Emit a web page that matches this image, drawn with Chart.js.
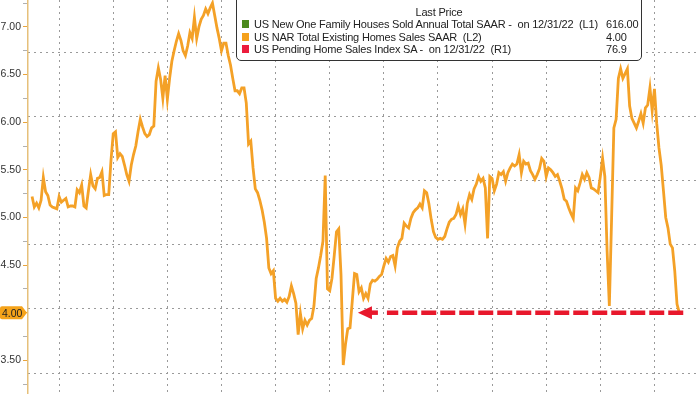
<!DOCTYPE html>
<html>
<head>
<meta charset="utf-8">
<script src="https://cdn.jsdelivr.net/npm/chart.js@4.4.0/dist/chart.umd.min.js"></script>
<style>
  body { margin: 0; background: #fff; }
  #wrap { position: relative; width: 700px; height: 394px; overflow: hidden; }
  #legend {
    position: absolute; left: 236px; top: -6px; width: 404px; height: 65px;
    border: 1px solid #333; border-radius: 5px; background: #fff;
    font: 11px "Liberation Sans", Arial, sans-serif; letter-spacing: -0.2px; color: #222;
  }
  #legend .title { position: absolute; left: 0; width: 100%; top: 11px; text-align: center; line-height: 12px; }
  #legend .row { position: absolute; left: 0; width: 100%; line-height: 12px; white-space: pre; }
  #legend .sq { position: absolute; left: 5px; top: 2px; width: 7px; height: 8px; }
  #legend .name { position: absolute; left: 17px; }
  #legend .val { position: absolute; left: 369px; }
</style>
</head>
<body>
<div id="wrap">
  <canvas id="myChart" width="700" height="394"></canvas>
  <div id="legend"></div>
</div>
<script>
// monthly, Jan 1999 .. Dec 2022 (millions, SAAR)
const startYear = 1999
const homeSales = [
  5.22, 5.11, 5.15, 5.10, 5.18, 5.42, 5.27, 5.23, 5.13, 5.11, 5.10, 5.09, // 1999
  5.22, 5.16, 5.18, 5.20, 5.11, 5.12, 5.12, 5.11, 5.29, 5.26, 5.34, 5.12, // 2000
  5.10, 5.28, 5.45, 5.33, 5.30, 5.41, 5.42, 5.48, 5.23, 5.24, 5.24, 5.60, // 2001
  5.88, 5.90, 5.63, 5.67, 5.64, 5.55, 5.45, 5.38, 5.55, 5.66, 5.75, 5.90, // 2002
  6.03, 5.95, 5.88, 5.85, 5.87, 5.94, 5.96, 6.43, 6.57, 6.45, 6.25, 6.49, // 2003
  6.24, 6.46, 6.64, 6.75, 6.85, 6.93, 6.86, 6.75, 6.70, 6.80, 6.94, 6.88, // 2004
  7.10, 6.88, 7.00, 7.08, 7.12, 7.19, 7.14, 7.20, 7.25, 7.12, 6.99, 6.88, // 2005
  6.75, 6.83, 6.83, 6.70, 6.60, 6.46, 6.33, 6.33, 6.30, 6.36, 6.36, 6.20, // 2006
  5.77, 5.80, 5.52, 5.30, 5.26, 5.18, 5.08, 4.95, 4.78, 4.47, 4.41, 4.44, // 2007
  4.15, 4.12, 4.15, 4.12, 4.14, 4.11, 4.17, 4.28, 4.20, 4.10, 3.77, 3.99, // 2008
  3.83, 3.92, 3.87, 3.92, 3.94, 4.07, 4.36, 4.47, 4.60, 4.75, 5.44, 4.25, // 2009
  4.23, 4.36, 4.60, 4.85, 4.88, 4.40, 3.45, 3.67, 3.83, 3.84, 4.12, 4.41, // 2010
  4.40, 4.22, 4.26, 4.15, 4.20, 4.15, 4.30, 4.34, 4.33, 4.35, 4.38, 4.40, // 2011
  4.49, 4.57, 4.53, 4.59, 4.60, 4.49, 4.68, 4.75, 4.78, 4.94, 4.91, 4.89, // 2012
  4.99, 5.05, 5.08, 5.10, 5.14, 5.10, 5.28, 5.26, 5.14, 4.98, 4.85, 4.79, // 2013
  4.77, 4.78, 4.77, 4.80, 4.88, 4.95, 4.98, 4.99, 5.03, 5.12, 5.03, 5.09, // 2014
  4.93, 5.15, 5.24, 5.19, 5.30, 5.35, 5.43, 5.38, 5.41, 5.31, 4.78, 5.43, // 2015
  5.41, 5.28, 5.35, 5.47, 5.45, 5.48, 5.38, 5.47, 5.52, 5.56, 5.54, 5.56, // 2016
  5.66, 5.47, 5.59, 5.56, 5.57, 5.49, 5.45, 5.40, 5.45, 5.51, 5.62, 5.59, // 2017
  5.43, 5.52, 5.50, 5.47, 5.43, 5.45, 5.38, 5.30, 5.19, 5.17, 5.10, 5.04, // 2018
  4.99, 5.31, 5.28, 5.36, 5.45, 5.40, 5.47, 5.42, 5.31, 5.30, 5.28, 5.26, // 2019
  5.43, 5.62, 5.43, 4.65, 4.07, 4.99, 5.94, 6.03, 6.46, 6.56, 6.46, 6.51, // 2020
  6.56, 6.17, 6.04, 5.99, 5.94, 6.01, 6.09, 5.99, 6.15, 6.18, 6.36, 6.12, // 2021
  6.35, 5.99, 5.73, 5.55, 5.28, 5.00, 4.89, 4.72, 4.68, 4.44, 4.09, 4.00  // 2022
]
const yTicks = [3.25, 3.50, 3.75, 4.00, 4.25, 4.50, 4.75, 5.00, 5.25, 5.50, 5.75, 6.00, 6.25, 6.50, 6.75, 7.00, 7.25]
const gridYears = [2000, 2002, 2004, 2006, 2008, 2010, 2012, 2014, 2016, 2018, 2020, 2022]
const rightGrid = [1, 2, 3, 4, 5, 6]

const legendNames = [
  "US New One Family Houses Sold Annual Total SAAR -  on 12/31/22  (L1)",
  "US NAR Total Existing Homes Sales SAAR  (L2)",
  "US Pending Home Sales Index SA -  on 12/31/22  (R1)"
]
const legendValues = ["616.00", "4.00", "76.9"]
const legendColors = ["#4b8a1c", "#f5a11c", "#ec1c3c"]

const lineColor = "#f4a127"
const lastPrice = homeSales[homeSales.length - 1]
const arrowTipMonth = 144.5

// legend box
const legend = document.getElementById("legend")
let html = '<div class="title">Last Price</div>'
const rowTops = [23, 35.5, 48]
legendNames.forEach((name, i) => {
  html += `<div class="row" style="top:${rowTops[i]}px"><span class="sq" style="background:${legendColors[i]}"></span>` +
    `<span class="name">${name}</span><span class="val">${legendValues[i]}</span></div>`
})
legend.innerHTML = html

const arrowPlugin = {
  id: "arrow",
  afterDatasetsDraw: (chart) => {
    const ctx = chart.ctx
    const xs = chart.scales.x, ys = chart.scales.y
    const y = ys.getPixelForValue(lastPrice)
    const tip = xs.getPixelForValue(arrowTipMonth)
    const end = xs.getPixelForValue(homeSales.length - 1) + 4
    ctx.save()
    ctx.strokeStyle = "#e8182c"
    ctx.fillStyle = "#e8182c"
    ctx.lineWidth = 4.5
    ctx.setLineDash([15, 4])
    ctx.beginPath()
    ctx.moveTo(end, y)
    ctx.lineTo(tip + 29, y)
    ctx.stroke()
    ctx.setLineDash([])
    ctx.beginPath()
    ctx.moveTo(tip, y)
    ctx.lineTo(tip + 14, y - 6.5)
    ctx.lineTo(tip + 14, y + 6.5)
    ctx.closePath()
    ctx.fill()
    // short stub behind the head
    ctx.fillRect(tip + 10, y - 2.25, 10, 4.5)
    ctx.restore()
  },
  afterDraw: (chart) => {
    // last value tag on the left axis
    const ctx = chart.ctx
    const y = chart.scales.y.getPixelForValue(lastPrice)
    ctx.save()
    ctx.fillStyle = "#f5a31a"
    ctx.beginPath()
    ctx.moveTo(2, y - 6.5)
    ctx.lineTo(22, y - 6.5)
    ctx.lineTo(27, y)
    ctx.lineTo(22, y + 6.5)
    ctx.lineTo(2, y + 6.5)
    ctx.quadraticCurveTo(0, y + 6.5, 0, y + 4.5)
    ctx.lineTo(0, y - 4.5)
    ctx.quadraticCurveTo(0, y - 6.5, 2, y - 6.5)
    ctx.closePath()
    ctx.fill()
    ctx.fillStyle = "#222"
    ctx.font = '10.5px "Liberation Sans", Arial, sans-serif'
    ctx.textBaseline = "middle"
    ctx.fillText(lastPrice.toFixed(2), 2, y + 1)
    ctx.restore()
  }
}

new Chart("myChart", {
  type: "line",
  data: {
    datasets: [{
      label: legendNames[1],
      data: homeSales.map((v, i) => ({ x: i, y: v })),
      borderColor: lineColor,
      borderWidth: 2.8,
      pointRadius: 0,
      tension: 0
    }]
  },
  options: {
    responsive: false,
    animation: false,
    layout: { padding: 0 },
    plugins: { legend: { display: false }, tooltip: { enabled: false } },
    scales: {
      x: {
        type: "linear",
        min: -1.8,
        max: 296.2,
        afterBuildTicks: (axis) => { axis.ticks = gridYears.map(yr => ({ value: (yr - startYear) * 12 })) },
        afterFit: (axis) => { axis.height = 0; axis.paddingLeft = 0; axis.paddingRight = 0 },
        ticks: { display: false },
        grid: { color: "#9a9a9a", lineWidth: 1, drawTicks: false },
        border: { display: false, dash: [2, 4] }
      },
      y: {
        position: "left",
        min: 3.146,
        max: 7.283,
        afterBuildTicks: (axis) => { axis.ticks = yTicks.map(v => ({ value: v })) },
        afterFit: (axis) => { axis.width = 28; axis.paddingTop = 0; axis.paddingBottom = 0 },
        ticks: {
          padding: 2,
          color: "#333",
          font: { family: '"Liberation Sans", Arial, sans-serif', size: 10.5 },
          callback: (v) => (Math.round(v * 100) % 50 === 0 ? v.toFixed(2) : "")
        },
        grid: {
          drawOnChartArea: false,
          tickLength: 5,
          tickColor: (c) => (c.tick && Math.round(c.tick.value * 100) % 50 === 0 ? "#e9a43c" : "#b0b0b0")
        },
        border: { display: true, color: "#e6c07a", width: 1.5 }
      },
      y2: {
        position: "right",
        min: 0.673,
        max: 6.81,
        afterBuildTicks: (axis) => { axis.ticks = rightGrid.map(v => ({ value: v })) },
        afterFit: (axis) => { axis.width = 0; axis.paddingTop = 0; axis.paddingBottom = 0 },
        ticks: { display: false },
        grid: { color: "#9a9a9a", lineWidth: 1, drawTicks: false },
        border: { display: false, dash: [2, 4] }
      }
    }
  },
  plugins: [arrowPlugin]
})
</script>
</body>
</html>
